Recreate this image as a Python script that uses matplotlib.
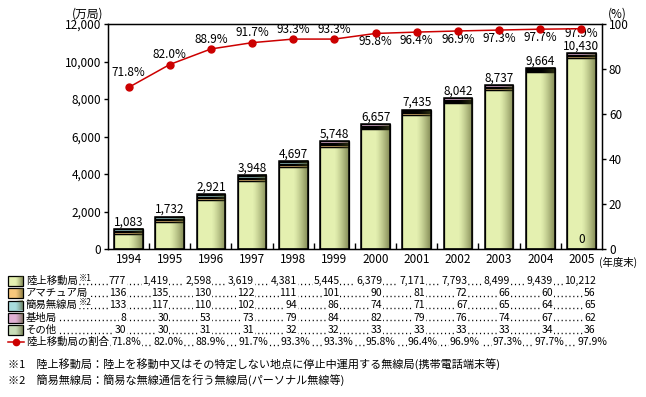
import matplotlib
matplotlib.use("Agg")
import matplotlib.pyplot as plt
import numpy as np

plt.rcParams['font.family'] = ['Noto Sans CJK JP', 'DejaVu Sans']

years = ['1994', '1995', '1996', '1997', '1998', '1999', '2000', '2001', '2002', '2003', '2004', '2005']
rikujo = [777, 1419, 2598, 3619, 4381, 5445, 6379, 7171, 7793, 8499, 9439, 10212]
amateur = [136, 135, 130, 122, 111, 101, 90, 81, 72, 66, 60, 56]
kan_i = [133, 117, 110, 102, 94, 86, 74, 71, 67, 65, 64, 65]
kichi = [8, 30, 53, 73, 79, 84, 82, 79, 76, 74, 67, 62]
sonota = [30, 30, 31, 31, 32, 32, 33, 33, 33, 33, 34, 36]
totals = [1083, 1732, 2921, 3948, 4697, 5748, 6657, 7435, 8042, 8737, 9664, 10430]
ratio = [71.8, 82.0, 88.9, 91.7, 93.3, 93.3, 95.8, 96.4, 96.9, 97.3, 97.7, 97.9]

series_names = ['陸上移動局', 'アマチュア局', '簡易無線局', '基地局', 'その他']
series_notes = ['※1', '', '※2', '', '']
series_vals = [rikujo, amateur, kan_i, kichi, sonota]
series_cols = ['#E4F0B0', '#F8C87C', '#A8DCDC', '#E0B0D4', '#C8DCB8']
# stacking order inside the bars (bottom -> top)
stack_order = [0, 1, 4, 2, 3]

red = '#CC0000'
fs = 8.5     # chart text
tfs = 7.5    # table text

fig = plt.figure(figsize=(6.46, 3.97), dpi=100)
ax = fig.add_axes([108 / 646, 1 - 249 / 397, 494 / 646, 225 / 397])

x = np.arange(len(years))
w = 0.7
bottom = np.zeros(len(years))
for k in stack_order:
    ax.bar(x, series_vals[k], w, bottom=bottom, color=series_cols[k],
           edgecolor='black', linewidth=0.9, zorder=2)
    bottom += np.array(series_vals[k])

# shading on the right side of each bar
t = np.linspace(0, 1, 80)
alpha = np.clip((t - 0.5) / 0.5, 0, 1) ** 1.3 * 0.62
grad = np.zeros((1, 80, 4))
grad[..., 0] = 0.28
grad[..., 1] = 0.30
grad[..., 2] = 0.12
grad[..., 3] = alpha
for i in range(len(years)):
    ax.imshow(grad, extent=(x[i] - w / 2, x[i] + w / 2, 0, bottom[i]),
              aspect='auto', interpolation='bilinear', zorder=2.5)
ax.bar(x, bottom, w, facecolor='none', edgecolor='black', linewidth=1.1, zorder=3)

for i in range(len(years)):
    ax.annotate(f'{totals[i]:,}', (x[i], bottom[i]), xytext=(0, 2.5),
                textcoords='offset points', ha='center', va='baseline', fontsize=fs)
ax.text(x[-1], 150, '0', ha='center', va='bottom', fontsize=fs, zorder=4)

ax.set_xlim(-0.5, len(years) - 0.5)
ax.set_ylim(0, 12000)
ax.set_yticks(np.arange(0, 12001, 2000))
ax.set_yticklabels([f'{v:,}' for v in range(0, 12001, 2000)], fontsize=fs)
ax.set_xticks(x)
ax.set_xticklabels(years, fontsize=fs)
ax.tick_params(axis='x', which='major', length=0, pad=3)
ax.set_xticks(np.arange(0.5, len(years) - 1, 1), minor=True)
ax.tick_params(axis='x', which='minor', direction='in', length=4, width=1)
ax.tick_params(axis='y', direction='out', length=3, width=1, pad=2)
for s in ax.spines.values():
    s.set_linewidth(1)

ax2 = ax.twinx()
ax2.set_ylim(0, 100)
ax2.set_yticks(np.arange(0, 101, 20))
ax2.set_yticklabels([str(v) for v in range(0, 101, 20)], fontsize=fs)
ax2.tick_params(axis='y', direction='out', length=3, width=1, pad=2)
ax2.plot(x, ratio, color=red, lw=1.1, marker='o', ms=5, zorder=5)
for i in range(len(years)):
    if i <= 5:
        dy = 11 if i == 0 else 7
    elif i < len(years) - 1:
        dy = -6
    else:
        dy = -3.5
    ax2.annotate(f'{ratio[i]:.1f}%', (x[i], ratio[i]), xytext=(0, dy),
                 textcoords='offset points', ha='center', va='center', fontsize=fs)

# overlay in pixel coordinates for unit labels, table and notes
lay = fig.add_axes([0, 0, 1, 1], zorder=-1)
lay.set_xlim(0, 646)
lay.set_ylim(397, 0)
lay.axis('off')

lay.text(88, 14, '(万局)', ha='center', va='center', fontsize=fs)
lay.text(617, 14, '(%)', ha='center', va='center', fontsize=fs)
lay.text(599, 262, '(年度末)', ha='left', va='center', fontsize=7.5)

row_y = [281, 293.3, 305.5, 317.7, 330, 342.2]
col_r = 126 + 42.7 * np.arange(len(years))
pct_r = np.linspace(141, 607, len(years))
renderer = fig.canvas.get_renderer()
wbox = dict(facecolor='white', edgecolor='none', pad=0.5)
dots = (0, (0.8, 2.0))

for r in range(5):
    y = row_y[r]
    lay.add_patch(plt.Rectangle((8, y - 5), 15, 10, facecolor=series_cols[r],
                                edgecolor='black', lw=0.9))
    lay.imshow(grad, extent=(8, 23, y + 5, y - 5), aspect='auto',
               interpolation='bilinear', zorder=2)
    lay.plot([40, col_r[-1] - 10], [y + 2.5, y + 2.5], color='black', lw=1,
             ls=dots, zorder=1)
    lbl = lay.text(26, y, series_names[r], ha='left', va='center', fontsize=tfs,
                   bbox=wbox, zorder=3)
    if series_notes[r]:
        bb = lbl.get_window_extent(renderer)
        lay.text(bb.x1 + 1, y - 3, series_notes[r], ha='left', va='center',
                 fontsize=6, bbox=wbox, zorder=3)
    for j, v in enumerate(series_vals[r]):
        lay.text(col_r[j], y, f'{v:,}', ha='right', va='center', fontsize=tfs,
                 bbox=wbox, zorder=3)

y = row_y[5]
lay.plot([8, 24], [y, y], color=red, lw=1.1)
lay.plot([16], [y], color=red, marker='o', ms=4.5)
lay.plot([40, pct_r[-1] - 10], [y + 2.5, y + 2.5], color='black', lw=1,
         ls=dots, zorder=1)
lay.text(26, y, '陸上移動局の割合', ha='left', va='center', fontsize=tfs,
         bbox=wbox, zorder=3)
for j, v in enumerate(ratio):
    lay.text(pct_r[j], y, f'{v:.1f}%', ha='right', va='center', fontsize=tfs,
             bbox=wbox, zorder=3)

lay.text(8, 364, '※1　陸上移動局：陸上を移動中又はその特定しない地点に停止中運用する無線局(携帯電話端末等)',
         ha='left', va='center', fontsize=8)
lay.text(8, 380, '※2　簡易無線局：簡易な無線通信を行う無線局(パーソナル無線等)',
         ha='left', va='center', fontsize=8)

fig.savefig('out.png', dpi=100)
